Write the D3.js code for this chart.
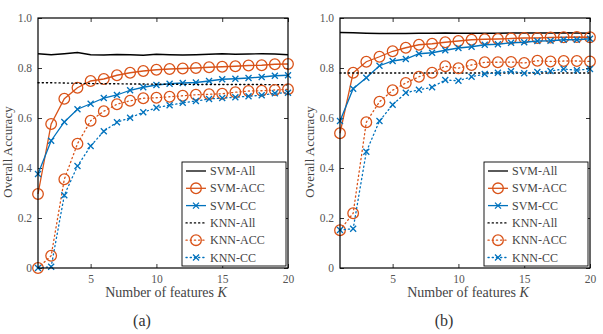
<!DOCTYPE html>
<html>
<head>
<meta charset="utf-8">
<script src="https://cdn.jsdelivr.net/npm/d3@7"></script>
<style>
  body { margin: 0; background: #fff; }
  svg { display: block; font-family: "Liberation Serif", serif; }
</style>
</head>
<body>
<div id="chart"></div>
<script>
// number of features K
const features = d3.range(1, 21);
const seriesNames = ['SVM-All', 'SVM-ACC', 'SVM-CC', 'KNN-All', 'KNN-ACC', 'KNN-CC'];
const yTicks = [0, 0.2, 0.4, 0.6, 0.8, 1.0];
const xTicks = [5, 10, 15, 20];
const captions = ['(a)', '(b)'];

// panel (a)
const aSvmAll = [0.857, 0.853, 0.857, 0.862, 0.853, 0.852, 0.854, 0.853, 0.851, 0.855, 0.853, 0.852, 0.853, 0.855, 0.857, 0.855, 0.856, 0.857, 0.856, 0.853];
const aSvmAcc = [0.296, 0.576, 0.677, 0.721, 0.748, 0.756, 0.771, 0.781, 0.788, 0.793, 0.796, 0.798, 0.800, 0.803, 0.805, 0.807, 0.810, 0.811, 0.815, 0.816];
const aSvmCc = [0.376, 0.509, 0.584, 0.635, 0.657, 0.680, 0.692, 0.711, 0.723, 0.732, 0.737, 0.740, 0.742, 0.748, 0.755, 0.757, 0.760, 0.764, 0.769, 0.771];
const aKnnAll = [0.741, 0.741, 0.740, 0.739, 0.738, 0.737, 0.737, 0.736, 0.736, 0.735, 0.735, 0.735, 0.734, 0.734, 0.734, 0.734, 0.734, 0.734, 0.733, 0.733];
const aKnnAcc = [0.0, 0.049, 0.355, 0.497, 0.589, 0.627, 0.655, 0.669, 0.679, 0.681, 0.685, 0.689, 0.693, 0.695, 0.697, 0.703, 0.708, 0.709, 0.712, 0.715];
const aKnnCc = [0.0, 0.005, 0.291, 0.408, 0.488, 0.547, 0.583, 0.601, 0.623, 0.641, 0.651, 0.661, 0.668, 0.676, 0.680, 0.683, 0.687, 0.691, 0.699, 0.701];

// panel (b)
const bSvmAll = [0.942, 0.941, 0.939, 0.938, 0.938, 0.938, 0.939, 0.939, 0.940, 0.939, 0.939, 0.939, 0.939, 0.940, 0.940, 0.940, 0.940, 0.941, 0.940, 0.939];
const bSvmAcc = [0.539, 0.781, 0.825, 0.845, 0.867, 0.881, 0.893, 0.897, 0.903, 0.908, 0.913, 0.915, 0.916, 0.918, 0.920, 0.920, 0.922, 0.923, 0.924, 0.923];
const bSvmCc = [0.588, 0.717, 0.761, 0.809, 0.828, 0.836, 0.857, 0.861, 0.871, 0.880, 0.885, 0.893, 0.895, 0.901, 0.903, 0.908, 0.909, 0.913, 0.913, 0.917];
const bKnnAll = [0.780, 0.780, 0.780, 0.780, 0.780, 0.780, 0.780, 0.780, 0.780, 0.780, 0.780, 0.780, 0.780, 0.780, 0.780, 0.780, 0.780, 0.780, 0.780, 0.780];
const bKnnAcc = [0.151, 0.219, 0.583, 0.665, 0.711, 0.740, 0.765, 0.781, 0.807, 0.799, 0.812, 0.823, 0.823, 0.824, 0.820, 0.829, 0.826, 0.828, 0.828, 0.826];
const bKnnCc = [0.152, 0.157, 0.465, 0.588, 0.653, 0.701, 0.713, 0.723, 0.752, 0.749, 0.765, 0.776, 0.781, 0.787, 0.779, 0.784, 0.788, 0.796, 0.791, 0.796];

const orange = '#D95319';
const blue = '#0072BD';
// style per series: color, dash, marker
const styles = [
  { color: '#000', dash: null, marker: null },
  { color: orange, dash: null, marker: 'circle' },
  { color: blue, dash: null, marker: 'x' },
  { color: '#000', dash: '1.2,3', marker: null },
  { color: orange, dash: '1.2,3', marker: 'circle' },
  { color: blue, dash: '1.2,3', marker: 'x' },
];

const panels = [
  { left: 38, series: [aSvmAll, aSvmAcc, aSvmCc, aKnnAll, aKnnAcc, aKnnCc] },
  { left: 340, series: [bSvmAll, bSvmAcc, bSvmCc, bKnnAll, bKnnAcc, bKnnCc] },
];

const width = 603, height = 334;
const plotW = 250, plotTop = 18, plotBottom = 268;

const svg = d3.select('#chart').append('svg')
  .attr('width', width).attr('height', height);

function drawMarker(g, type, x, y, color) {
  if (type === 'circle') {
    g.append('circle').attr('cx', x).attr('cy', y).attr('r', 5.3)
      .attr('fill', 'none').attr('stroke', color).attr('stroke-width', 1.3);
  } else if (type === 'x') {
    const s = 3;
    g.append('path')
      .attr('d', `M${x - s},${y - s}L${x + s},${y + s}M${x - s},${y + s}L${x + s},${y - s}`)
      .attr('stroke', color).attr('stroke-width', 1.3).attr('fill', 'none');
  }
}

panels.forEach((p, pi) => {
  const xScale = d3.scaleLinear().domain([1, 20]).range([p.left, p.left + plotW]);
  const yScale = d3.scaleLinear().domain([0, 1]).range([plotBottom, plotTop]);
  const g = svg.append('g');

  // clip so the lines stay in the box
  const clipId = 'clip' + pi;
  g.append('clipPath').attr('id', clipId).append('rect')
    .attr('x', p.left - 8).attr('y', plotTop).attr('width', plotW + 16).attr('height', plotBottom - plotTop + 8);

  // axes
  const fmt = (d) => (d === 0 ? '0' : d.toFixed(1));
  const yLeft = g.append('g').attr('transform', `translate(${p.left},0)`)
    .call(d3.axisLeft(yScale).tickValues(yTicks).tickFormat(fmt).tickSizeInner(-4).tickSizeOuter(0).tickPadding(6));
  const yRight = g.append('g').attr('transform', `translate(${p.left + plotW},0)`)
    .call(d3.axisRight(yScale).tickValues(yTicks).tickFormat('').tickSizeInner(-4).tickSizeOuter(0));
  const xBottom = g.append('g').attr('transform', `translate(0,${plotBottom})`)
    .call(d3.axisBottom(xScale).tickValues(xTicks).tickSizeInner(-4).tickSizeOuter(0).tickPadding(7));
  const xTop = g.append('g').attr('transform', `translate(0,${plotTop})`)
    .call(d3.axisTop(xScale).tickValues(xTicks).tickFormat('').tickSizeInner(-4).tickSizeOuter(0));
  [yLeft, yRight, xBottom, xTop].forEach((a) => {
    a.select('.domain').remove();
    a.selectAll('line').attr('stroke', '#000').attr('stroke-width', 0.8);
    a.selectAll('text').attr('font-family', '"Liberation Serif", serif').attr('font-size', 11.5).attr('fill', '#555');
  });

  // series
  const plot = g.append('g').attr('clip-path', `url(#${clipId})`);
  const line = d3.line().x((d, i) => xScale(features[i])).y((d) => yScale(d));
  p.series.forEach((vals, si) => {
    const st = styles[si];
    plot.append('path').datum(vals)
      .attr('d', line)
      .attr('fill', 'none')
      .attr('stroke', st.color)
      .attr('stroke-width', 1.3)
      .attr('stroke-dasharray', st.dash)
      .attr('stroke-linecap', st.dash ? 'round' : 'butt');
    if (st.marker) {
      vals.forEach((v, i) => drawMarker(plot, st.marker, xScale(features[i]), yScale(v), st.color));
    }
  });

  // box
  g.append('rect').attr('x', p.left).attr('y', plotTop).attr('width', plotW).attr('height', plotBottom - plotTop)
    .attr('fill', 'none').attr('stroke', '#000').attr('stroke-width', 1.2);

  // axis labels
  g.append('text')
    .attr('transform', `translate(${p.left - 26},152) rotate(-90)`)
    .attr('text-anchor', 'middle').attr('font-size', 13).attr('fill', '#444')
    .text('Overall Accuracy');
  const xl = g.append('text')
    .attr('x', p.left + plotW / 2 + 3).attr('y', 297)
    .attr('text-anchor', 'middle').attr('font-size', 14).attr('fill', '#444');
  xl.append('tspan').text('Number of features ');
  xl.append('tspan').attr('font-style', 'italic').text('K');

  g.append('text')
    .attr('x', p.left + plotW / 2 - 21).attr('y', 326)
    .attr('text-anchor', 'middle').attr('font-size', 16).attr('fill', '#333')
    .text(captions[pi]);

  // legend
  const lx = p.left + plotW - 106, ly = 162;
  const leg = g.append('g');
  leg.append('rect').attr('x', lx).attr('y', ly).attr('width', 104).attr('height', 104)
    .attr('fill', '#fff').attr('stroke', '#000').attr('stroke-width', 0.9);
  seriesNames.forEach((name, i) => {
    const st = styles[i];
    const y = ly + 9 + i * 17.3;
    leg.append('line').attr('x1', lx + 4).attr('x2', lx + 24).attr('y1', y).attr('y2', y)
      .attr('stroke', st.color).attr('stroke-width', 1.3)
      .attr('stroke-dasharray', st.dash).attr('stroke-linecap', st.dash ? 'round' : 'butt');
    if (st.marker) drawMarker(leg, st.marker, lx + 14, y, st.color);
    leg.append('text').attr('x', lx + 28).attr('y', y + 4)
      .attr('font-size', 12).attr('fill', '#444').text(name);
  });
});
</script>
</body>
</html>
